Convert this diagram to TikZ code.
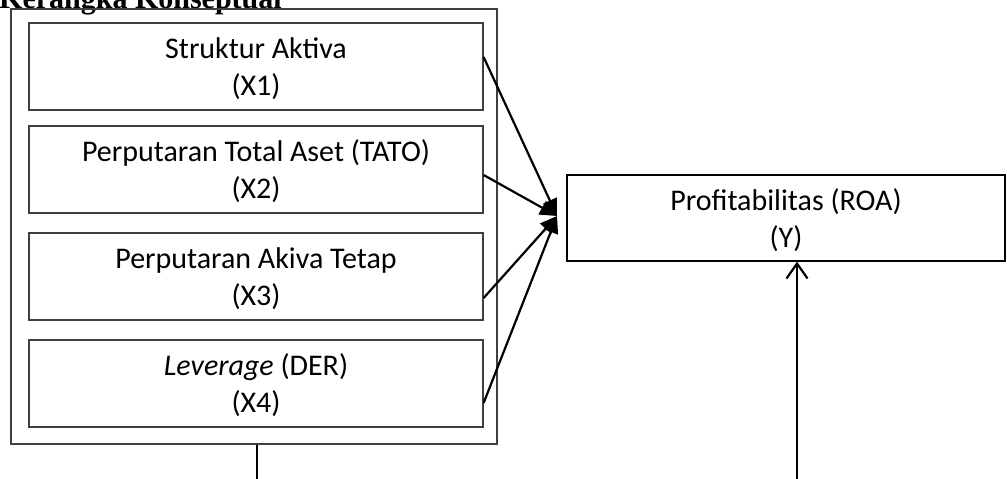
\documentclass[tikz,border=0pt]{standalone}
\usepackage{fontspec}
\setmainfont{Carlito}
\newfontfamily\titlefont{Liberation Serif}
\usetikzlibrary{arrows.meta}
\begin{document}
\begin{tikzpicture}[x=1pt,y=-1pt,
  box/.style={draw=black!75, line width=1.2pt, rectangle, align=center, inner sep=0pt,
    text depth=-5pt, font=\fontsize{30}{37}\selectfont},
  conn/.style={draw=black, line width=2.2pt, -{Triangle[length=17pt,width=15pt]}},
  openarr/.style={draw=black, line width=2.2pt, -{Straight Barb[length=15pt,width=21pt,line width=2.2pt]}}]
\useasboundingbox (0,0) rectangle (1007,479);
\clip (0,0) rectangle (1007,479);
\node[anchor=base west, font=\titlefont\bfseries\fontsize{30}{34}\selectfont, inner sep=0pt] (title) at (-1,9) {Kerangka Konseptual};
\node[box, minimum width=486pt, minimum height=435pt] (outer) at (254,226.5) {};
\node[box, minimum width=454pt, minimum height=87pt] (x1) at (256,66.5) {Struktur Aktiva\\(X1)};
\node[box, minimum width=454pt, minimum height=87pt] (x2) at (256,169.5) {Perputaran Total Aset (TATO)\\(X2)};
\node[box, minimum width=454pt, minimum height=87pt] (x3) at (256,276.5) {Perputaran Akiva Tetap\\(X3)};
\node[box, minimum width=454pt, minimum height=87pt] (x4) at (256,383.5) {\textit{Leverage} (DER)\\(X4)};
\node[box, draw=black, minimum width=438pt, minimum height=86pt] (y) at (786,218) {Profitabilitas (ROA)\\(Y)};
\coordinate (tip) at (557,216);
\coordinate (b1) at (257,480);
\coordinate (b2) at (797,480);
\draw[conn] (x1.east |- 0,57) -- (tip);
\draw[conn] (x2.east |- 0,175) -- (tip);
\draw[conn] (x3.east |- 0,298) -- (tip);
\draw[conn] (x4.east |- 0,403) -- (tip);
\draw[draw=black, line width=2pt] (outer.south -| b1) -- (b1);
\draw[openarr] (b2) -- (y.south -| b2);
\end{tikzpicture}
\end{document}
